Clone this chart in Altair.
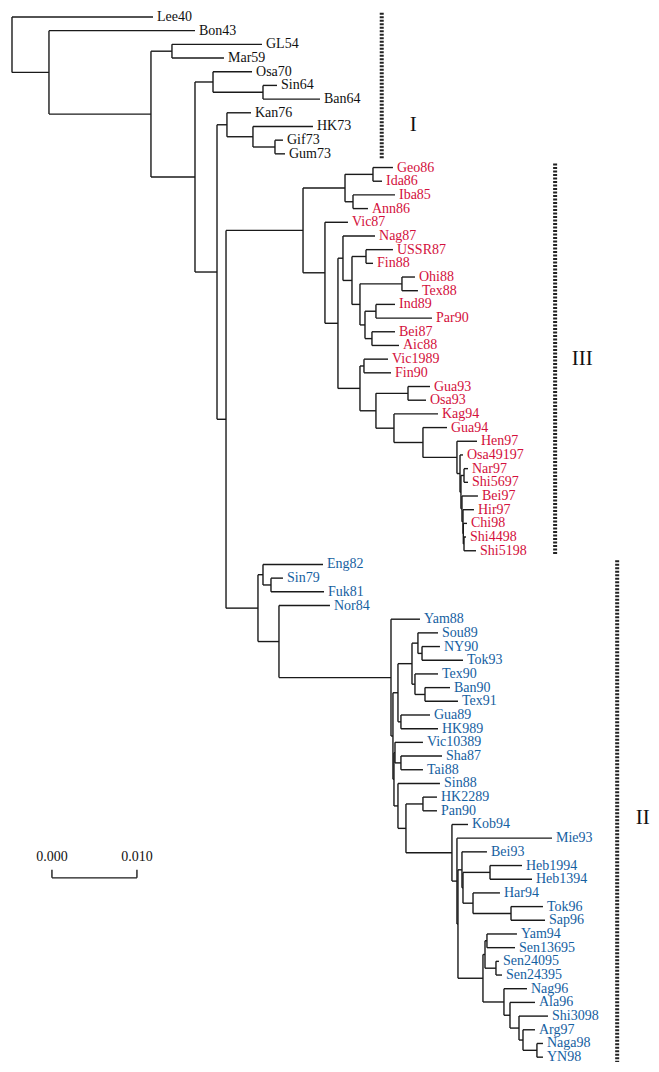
import altair as alt
import pandas as pd

# Tree: nodes in pre-order (children listed top to bottom), parent, depth from root
# (depth in units of 0.001 substitutions/site: 0.010 = 10 units)
node_names = [
    "root", "Lee40", "A", "Bon43", "B", "GLn", "GL54", "Mar59", "C", "OSn", "Osa70", "SINn", "Sin64", "Ban64",
    "D", "KANn", "Kan76", "HKn", "HK73", "GIFn", "Gif73", "Gum73",
    "E", "T", "GI", "GE", "Geo86", "Ida86", "IB", "Iba85", "Ann86",
    "V", "Vic87", "W", "NAGn", "Nag87", "Q", "USSRn", "USSR87", "Fin88", "Rn", "OHIn", "Ohi88", "Tex88",
    "S", "INDn", "Ind89", "Par90", "BEIn", "Bei87", "Aic88",
    "Z", "VICn", "Vic1989", "Fin90", "Y", "GUAn3", "Gua93", "Osa93", "K", "Kag94", "G", "Gua94",
    "H", "Hen97", "J", "Osa49197", "J2", "NARn", "Nar97", "Shi5697", "L", "Bei97", "L2", "Hir97",
    "L3", "Chi98", "L4", "Shi4498", "Shi5198",
    "U", "ENGn", "Eng82", "SINn2", "Sin79", "Fuk81", "NORn", "Nor84", "P", "Yam88", "P2", "A1", "A2",
    "SOUn", "Sou89", "NYn", "NY90", "Tok93", "TEXn", "Tex90", "BANn", "Ban90", "Tex91",
    "GUAn", "Gua89", "HK989", "P5", "VICg", "Vic10389", "SHAn", "Sha87", "Tai88",
    "P6", "Sin88", "P7", "HKn2", "HK2289", "Pan90", "P8", "Kob94", "P9", "Mie93", "P10",
    "P11", "Bei93", "P13", "HEBn", "Heb1994", "Heb1394", "HARn", "Har94", "TOKn", "Tok96", "Sap96",
    "P12", "YAMg", "YAMn", "Yam94", "Sen13695", "SENn", "Sen24095", "Sen24395",
    "P16", "Nag96", "P17", "Ala96", "P18", "Shi3098", "P19", "Arg97", "NAGAn", "Naga98", "YN98",
]
node_parents = [
    "", "root", "root", "A", "A", "B", "GLn", "GLn", "B", "C", "OSn", "OSn", "SINn", "SINn",
    "C", "D", "KANn", "KANn", "HKn", "HKn", "GIFn", "GIFn",
    "D", "E", "T", "GI", "GE", "GE", "GI", "IB", "IB",
    "T", "V", "V", "W", "NAGn", "NAGn", "Q", "USSRn", "USSRn", "Q", "Rn", "OHIn", "OHIn",
    "Rn", "S", "INDn", "INDn", "S", "BEIn", "BEIn",
    "W", "Z", "VICn", "VICn", "Z", "Y", "GUAn3", "GUAn3", "Y", "K", "K", "G",
    "G", "H", "H", "J", "J", "J2", "NARn", "NARn", "J2", "L", "L", "L2",
    "L2", "L3", "L3", "L4", "L4",
    "E", "U", "ENGn", "ENGn", "SINn2", "SINn2", "U", "NORn", "NORn", "P", "P", "P2", "A1",
    "A2", "SOUn", "SOUn", "NYn", "NYn", "A2", "TEXn", "TEXn", "BANn", "BANn",
    "A1", "GUAn", "GUAn", "P2", "P5", "VICg", "VICg", "SHAn", "SHAn",
    "P5", "P6", "P6", "P7", "HKn2", "HKn2", "P7", "P8", "P8", "P9", "P9",
    "P10", "P11", "P11", "P13", "HEBn", "HEBn", "P13", "HARn", "HARn", "TOKn", "TOKn",
    "P10", "P12", "YAMg", "YAMn", "YAMn", "YAMg", "SENn", "SENn",
    "P12", "P16", "P16", "P17", "P17", "P18", "P18", "P19", "P19", "NAGAn", "NAGAn",
]
node_depths = [
    0.0, 16.59, 4.35, 21.53, 16.35, 18.82, 29.41, 24.94, 21.53, 23.65, 28.24, 29.53, 31.18, 36.24,
    24.12, 25.29, 28.12, 28.35, 35.41, 30.94, 31.88, 32.12,
    25.18, 34.24, 39.18, 42.47, 44.82, 43.53, 40.12, 45.06, 41.88,
    36.82, 39.53, 38.35, 38.94, 42.71, 40.00, 41.65, 44.82, 42.47, 40.94, 45.88, 47.41, 47.76,
    41.53, 42.82, 45.06, 49.41, 42.35, 45.06, 45.53,
    40.94, 41.41, 44.24, 44.59, 42.82, 46.59, 49.18, 48.71, 44.94, 50.12, 48.35, 51.18,
    52.35, 54.71, 52.71, 53.06, 52.82, 53.18, 53.65, 53.65, 52.94, 54.82, 53.06, 54.35,
    53.10, 53.53, 53.18, 53.41, 54.59,
    28.94, 29.53, 36.59, 30.47, 31.88, 36.71, 31.41, 37.41, 44.59, 48.00, 44.82, 45.41, 47.06,
    47.76, 50.12, 48.24, 50.35, 53.06, 47.41, 50.12, 48.59, 51.53, 52.47,
    45.76, 49.18, 50.12, 44.94, 45.06, 48.35, 45.76, 50.59, 48.35,
    45.41, 50.35, 46.35, 48.35, 50.00, 50.00, 51.76, 53.65, 52.35, 63.53, 52.47,
    52.94, 55.88, 53.06, 56.24, 60.00, 61.18, 54.24, 57.41, 58.71, 62.47, 62.71,
    55.41, 55.65, 55.88, 59.41, 59.18, 56.94, 57.29, 57.65,
    57.88, 60.59, 58.59, 61.53, 59.65, 63.06, 60.12, 61.53, 61.76, 62.47, 62.47,
]

clade_roots = ["T", "U"]          # clade III (red) and clade II (blue)
clade_names = ["III", "II"]
group_domain = ["other", "III", "II"]
group_colors = ["#111111", "#d3103c", "#15609f"]

bracket_labels = ["I", "III", "II"]
bracket_first_leaf = ["Lee40", "Geo86", "Eng82"]
bracket_last_leaf = ["Gum73", "Shi5198", "YN98"]
bracket_depth = [43.5, 63.9, 71.2]
numeral_depth = [47.2, 67.1, 74.2]
numeral_row = [7.9, 25.0, 58.5]

scale_start = 4.7
scale_length = 10.0   # = 0.010
scale_tick_labels = ["0.000", "0.010"]

# ---------- layout ----------
children = {n: [] for n in node_names}
for n, p in zip(node_names, node_parents):
    if p:
        children[p].append(n)
depth = dict(zip(node_names, node_depths))
parent = dict(zip(node_names, node_parents))

ypos, leaves = {}, []


def place(n):
    if not children[n]:
        ypos[n] = float(len(leaves))
        leaves.append(n)
    else:
        for c in children[n]:
            place(c)
        ypos[n] = (ypos[children[n][0]] + ypos[children[n][-1]]) / 2


place("root")

group = {}


def mark(n, g):
    group[n] = g
    for c in children[n]:
        mark(c, g)


mark("root", "other")
for r, g in zip(clade_roots, clade_names):
    mark(r, g)

segs = []
for n in node_names:
    if parent[n]:
        segs.append({"x": depth[parent[n]], "x2": depth[n], "y": ypos[n], "y2": ypos[n]})
    if children[n]:
        segs.append({"x": depth[n], "x2": depth[n], "y": ypos[children[n][0]], "y2": ypos[children[n][-1]]})
seg_df = pd.DataFrame(segs)

leaf_df = pd.DataFrame({
    "x": [depth[n] for n in leaves],
    "y": [ypos[n] for n in leaves],
    "label": leaves,
    "group": [group[n] for n in leaves],
})

br_df = pd.DataFrame({
    "x": bracket_depth,
    "y": [ypos[a] - 0.3 for a in bracket_first_leaf],
    "y2": [ypos[b] + 0.35 for b in bracket_last_leaf],
    "nx": numeral_depth,
    "ny": numeral_row,
    "label": bracket_labels,
})

sb_y = 62.9
sb_rules = pd.DataFrame({
    "x": [scale_start, scale_start, scale_start + scale_length],
    "x2": [scale_start + scale_length, scale_start, scale_start + scale_length],
    "y": [sb_y, sb_y - 0.6, sb_y - 0.6],
    "y2": [sb_y, sb_y, sb_y],
})
sb_text = pd.DataFrame({
    "x": [scale_start, scale_start + scale_length],
    "y": [sb_y - 1.55, sb_y - 1.55],
    "label": scale_tick_labels,
})

X = alt.Scale(domain=[-0.47, 75.18], nice=False, zero=False)
Y = alt.Scale(domain=[76.5, -0.656], nice=False, zero=False)
FONT = "Liberation Serif"

branches = alt.Chart(seg_df).mark_rule(color="#1a1a1a", strokeWidth=1.4).encode(
    x=alt.X("x:Q", scale=X, axis=None),
    x2="x2:Q",
    y=alt.Y("y:Q", scale=Y, axis=None),
    y2="y2:Q",
)

labels = alt.Chart(leaf_df).mark_text(
    align="left", baseline="middle", dx=4, font=FONT, fontSize=14
).encode(
    x=alt.X("x:Q", scale=X, axis=None),
    y=alt.Y("y:Q", scale=Y, axis=None),
    text="label:N",
    color=alt.Color("group:N", scale=alt.Scale(domain=group_domain, range=group_colors), legend=None),
)

brackets = alt.Chart(br_df).mark_rule(color="#222222", strokeWidth=4, strokeDash=[2, 1.5]).encode(
    x=alt.X("x:Q", scale=X, axis=None),
    y=alt.Y("y:Q", scale=Y, axis=None),
    y2="y2:Q",
)

numerals = alt.Chart(br_df).mark_text(
    align="center", baseline="middle", font=FONT, fontSize=21, color="#111111"
).encode(
    x=alt.X("nx:Q", scale=X, axis=None),
    y=alt.Y("ny:Q", scale=Y, axis=None),
    text="label:N",
)

sbar = alt.Chart(sb_rules).mark_rule(color="#1a1a1a", strokeWidth=1.4).encode(
    x=alt.X("x:Q", scale=X, axis=None),
    x2="x2:Q",
    y=alt.Y("y:Q", scale=Y, axis=None),
    y2="y2:Q",
)

stext = alt.Chart(sb_text).mark_text(
    align="center", baseline="middle", font=FONT, fontSize=14, color="#111111"
).encode(
    x=alt.X("x:Q", scale=X, axis=None),
    y=alt.Y("y:Q", scale=Y, axis=None),
    text="label:N",
)

chart = alt.layer(branches, labels, brackets, numerals, sbar, stext).properties(
    width=643, height=1056, padding=0, autosize="none", background="white"
).configure_view(stroke=None)

chart.save("out.html", embed_options={"renderer": "svg", "actions": False})
